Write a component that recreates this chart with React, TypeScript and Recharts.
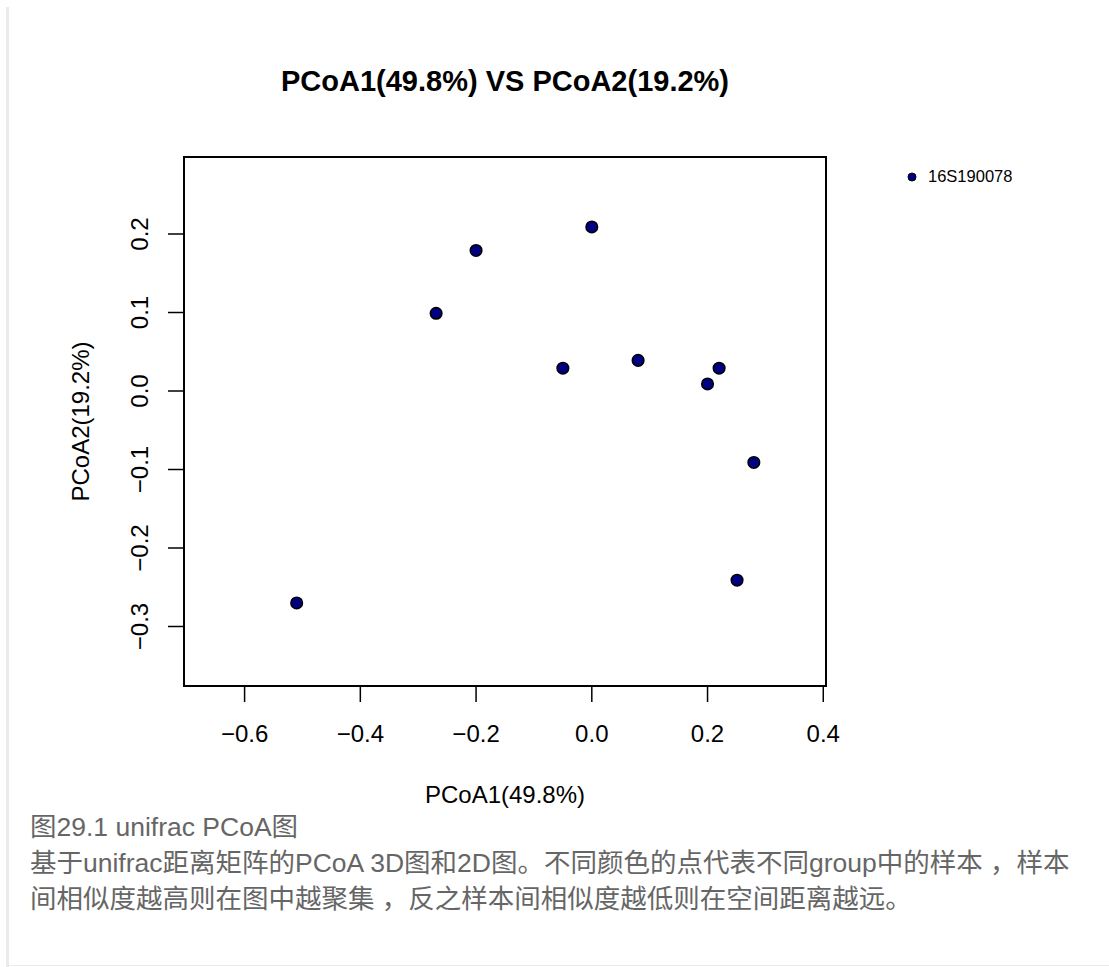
import React from "react";
import { ScatterChart, Scatter, XAxis, YAxis, ReferenceArea, Legend } from "recharts";

// sample group shown in the legend
const groupName = "16S190078";

// PCoA coordinates
const pcoa1 = [-0.51, -0.269, -0.2, 0.0, -0.05, 0.08, 0.2, 0.22, 0.28, 0.251];
const pcoa2 = [-0.27, 0.099, 0.179, 0.209, 0.029, 0.039, 0.009, 0.029, -0.091, -0.241];

const xTicks = [-0.6, -0.4, -0.2, 0, 0.2, 0.4];
const yTicks = [-0.3, -0.2, -0.1, 0, 0.1, 0.2];
const xDomain = [-0.7047, 0.4047];
const yDomain = [-0.3758, 0.2981];

const titleText = "PCoA1(49.8%) VS PCoA2(19.2%)";
const xLabel = "PCoA1(49.8%)";
const yLabel = "PCoA2(19.2%)";
const captionLines = [
  "图29.1 unifrac PCoA图",
  "基于unifrac距离矩阵的PCoA 3D图和2D图。不同颜色的点代表不同group中的样本 ，样本",
  "间相似度越高则在图中越聚集 ，反之样本间相似度越低则在空间距离越远。",
];

const FONT = '"Liberation Sans", Arial, Helvetica, sans-serif';
const CAPTION_FONT = '"Liberation Sans", "Noto Sans CJK SC", sans-serif';
const DOT_FILL = "#000080";

const fmt = (v: number) => v.toFixed(1).replace("-", "\u2212");

const points = pcoa1.map((x, i) => ({ x, y: pcoa2[i] }));

const XTick = (props: any) => {
  const { x, y, payload } = props;
  return (
    <text x={x} y={y} dy={40} textAnchor="middle" fontSize={24} fill="#000">
      {fmt(payload.value)}
    </text>
  );
};

const YTick = (props: any) => {
  const { x, y, payload } = props;
  return (
    <text transform={`translate(${x - 20},${y}) rotate(-90)`} textAnchor="middle" fontSize={24} fill="#000">
      {fmt(payload.value)}
    </text>
  );
};

const YLabel = (props: any) => {
  const vb = props.viewBox ?? { x: 124, y: 157, width: 60, height: 529 };
  const cx = vb.x - 35;
  const cy = vb.y + vb.height / 2;
  return (
    <text transform={`translate(${cx},${cy}) rotate(-90)`} textAnchor="middle" fontSize={24} fill="#000">
      {yLabel}
    </text>
  );
};

const Dot = (props: any) => (
  <circle cx={props.cx} cy={props.cy} r={5.8} fill={DOT_FILL} stroke="#000" strokeWidth={1.5} />
);

const LegendBox = (props: any) => {
  const items = props.payload ?? [];
  return (
    <div style={{ fontFamily: FONT, fontSize: 16.5, color: "#000" }}>
      {items.map((item: any) => (
        <div key={item.value} style={{ display: "flex", alignItems: "center" }}>
          <svg width={14} height={14}>
            <circle cx={7} cy={7} r={4} fill={DOT_FILL} stroke="#000" strokeWidth={1} />
          </svg>
          <span style={{ marginLeft: 9 }}>{item.value}</span>
        </div>
      ))}
    </div>
  );
};

export default function App() {
  return (
    <div style={{ position: "absolute", left: 0, top: 0, width: 1109, height: 967, background: "#fff" }}>
      {/* page border */}
      <div style={{ position: "absolute", left: 6, top: 7, width: 3, height: 960, background: "#ebebeb" }} />
      <div style={{ position: "absolute", left: 8, top: 965, width: 1101, height: 1, background: "#ebebeb" }} />

      <div
        style={{
          position: "absolute",
          left: 184,
          top: 67,
          width: 642,
          textAlign: "center",
          fontFamily: FONT,
          fontWeight: "bold",
          fontSize: 29,
          lineHeight: "29px",
          color: "#000",
          whiteSpace: "nowrap",
        }}
      >
        {titleText}
      </div>

      <div style={{ position: "absolute", left: 0, top: 0 }}>
        <ScatterChart
          width={1109}
          height={967}
          margin={{ top: 157, right: 283, bottom: 221, left: 124 }}
          style={{ fontFamily: FONT }}
        >
          <XAxis
            type="number"
            dataKey="x"
            domain={xDomain}
            ticks={xTicks}
            allowDataOverflow
            interval={0}
            axisLine={false}
            tickLine={{ stroke: "#000", strokeWidth: 1.5 }}
            tickSize={16}
            tickMargin={0}
            height={60}
            tick={<XTick />}
            label={{ value: xLabel, position: "bottom", offset: 40, fontSize: 24, fill: "#000" }}
          />
          <YAxis
            type="number"
            dataKey="y"
            domain={yDomain}
            ticks={yTicks}
            allowDataOverflow
            interval={0}
            axisLine={false}
            tickLine={{ stroke: "#000", strokeWidth: 1.5 }}
            tickSize={16}
            tickMargin={0}
            width={60}
            tick={<YTick />}
            label={{ content: <YLabel /> }}
          />
          <ReferenceArea
            x1={xDomain[0]}
            x2={xDomain[1]}
            y1={yDomain[0]}
            y2={yDomain[1]}
            fill="none"
            stroke="#000"
            strokeWidth={2}
            ifOverflow="visible"
          />
          <Legend
            layout="horizontal"
            align="center"
            verticalAlign="middle"
            wrapperStyle={{ position: "absolute", left: 905, top: 167, width: "auto" }}
            content={<LegendBox />}
          />
          <Scatter name={groupName} data={points} shape={<Dot />} fill={DOT_FILL} isAnimationActive={false} />
        </ScatterChart>
      </div>

      <div
        style={{
          position: "absolute",
          left: 30,
          top: 809,
          fontFamily: CAPTION_FONT,
          fontSize: 26.5,
          lineHeight: "36px",
          color: "#666",
          whiteSpace: "nowrap",
        }}
      >
        {captionLines.map((line) => (
          <div key={line}>{line}</div>
        ))}
      </div>
    </div>
  );
}
